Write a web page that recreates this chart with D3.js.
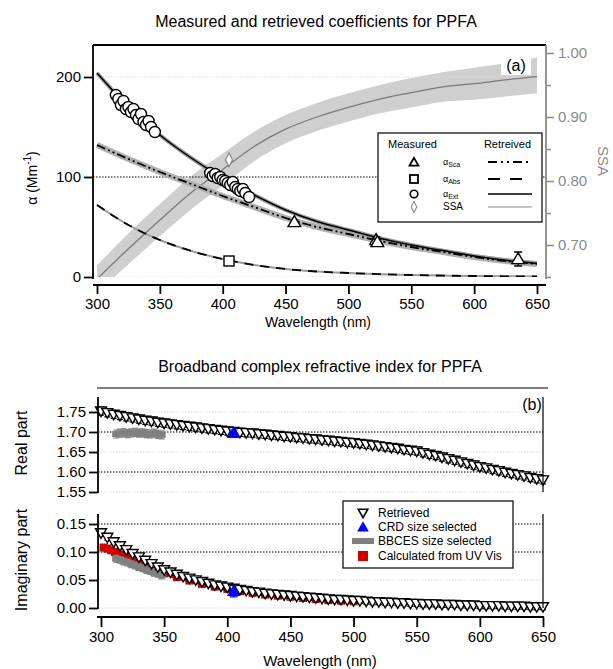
<!DOCTYPE html>
<html>
<head>
<meta charset="utf-8">
<script src="https://cdn.jsdelivr.net/npm/d3@7"></script>
<style>
body { margin: 0; background: #fff; }
svg { font-family: "Liberation Sans", Arial, sans-serif; }
</style>
</head>
<body>
<div id="chart"></div>
<script>
// ---- panel (a) : retrieved fits
var fitWave = [300, 325, 350, 375, 400, 425, 450, 475, 500, 525, 550, 575, 600, 625, 650];
var extFit  = [204, 170, 142, 119, 99, 82, 67, 55.5, 47, 38.8, 32, 26.4, 21, 16.7, 13.5];
var scaFit  = [132, 118, 105, 93, 81, 70, 59, 50, 43, 36, 30, 25, 20, 16, 13];
var absFit  = [72, 52, 37, 26, 18, 12, 8, 5.5, 4, 2.8, 2, 1.4, 1, 0.7, 0.5];
var ssaFit  = [0.647, 0.694, 0.739, 0.782, 0.818, 0.854, 0.881, 0.900, 0.915, 0.928, 0.938, 0.947, 0.952, 0.958, 0.963];
var ssaHigh = [0.668, 0.718, 0.764, 0.808, 0.843, 0.877, 0.903, 0.922, 0.937, 0.950, 0.961, 0.970, 0.977, 0.984, 0.993];
var ssaLow  = [0.626, 0.670, 0.714, 0.756, 0.793, 0.831, 0.859, 0.878, 0.893, 0.906, 0.915, 0.924, 0.927, 0.932, 0.937];

// ---- panel (a) : measured
var extWave = [315, 317, 319, 321, 323, 325, 327, 329, 331, 333, 335, 337, 339, 341, 343, 346,
               390, 392, 394, 396, 398, 400, 402, 404, 406, 408, 410, 412, 414, 416, 418, 421];
var extMeas = [182, 178, 172, 176, 168, 170, 165, 168, 162, 158, 163, 155, 152, 156, 150, 145,
               104, 101, 103, 99, 100, 97, 96, 94, 92, 95, 90, 88, 86, 88, 84, 80];
var scaWave = [457, 522, 523, 635];
var scaMeas = [55, 37, 35, 18];
var scaErr  = [2, 3, 3, 7];
var absWave = [405];
var absMeas = [16];
var ssaWave = [405];
var ssaMeas = [0.833];

// ---- panel (b) : retrieved refractive index
var retWave = [300,305,310,315,320,325,330,335,340,345,350,355,360,365,370,375,380,385,390,395,
               400,405,410,415,420,425,430,435,440,445,450,455,460,465,470,475,480,485,490,495,
               500,505,510,515,520,525,530,535,540,545,550,555,560,565,570,575,580,585,590,595,
               600,605,610,615,620,625,630,635,640,645,650];
var retReal = [1.752,1.748,1.744,1.741,1.738,1.735,1.732,1.729,1.727,1.724,1.722,1.720,1.718,1.716,1.714,1.712,1.710,1.708,1.706,1.704,
               1.702,1.701,1.699,1.698,1.697,1.695,1.694,1.692,1.691,1.689,1.688,1.686,1.685,1.683,1.682,1.680,1.679,1.677,1.676,1.674,
               1.673,1.671,1.669,1.667,1.665,1.663,1.661,1.659,1.656,1.654,1.652,1.648,1.644,1.641,1.637,1.633,1.629,1.625,1.621,1.617,
               1.613,1.610,1.606,1.603,1.599,1.596,1.593,1.590,1.586,1.583,1.580];
var retImag = [0.134,0.126,0.118,0.111,0.104,0.097,0.091,0.085,0.079,0.073,0.068,0.064,0.060,0.056,0.053,0.050,0.047,0.044,0.041,0.039,
               0.037,0.035,0.033,0.031,0.029,0.028,0.026,0.025,0.024,0.023,0.022,0.021,0.020,0.019,0.018,0.017,0.016,0.015,0.015,0.014,
               0.013,0.013,0.012,0.011,0.011,0.010,0.010,0.009,0.009,0.008,0.008,0.007,0.007,0.007,0.006,0.006,0.006,0.005,0.005,0.005,
               0.004,0.004,0.004,0.004,0.003,0.003,0.003,0.003,0.002,0.002,0.002];
var realErr = 0.010, imagErr = 0.005;

// CRD size selected
var crdWave = [405];
var crdReal = [1.697], crdRealErr = [0.008];
var crdImag = [0.030], crdImagErr = [0.010];

// BBCES size selected
var bbWave = [312, 315, 318, 321, 324, 327, 330, 333, 336, 339, 342, 345, 348];
var bbReal = [1.695, 1.697, 1.698, 1.696, 1.698, 1.699, 1.697, 1.698, 1.696, 1.695, 1.697, 1.694, 1.693];
var bbImag = [0.088, 0.086, 0.083, 0.081, 0.078, 0.076, 0.073, 0.071, 0.068, 0.066, 0.063, 0.061, 0.058];
var bbRealErr = 0.010, bbImagErr = 0.006;

// Calculated from UV Vis
var uvWave = [302,305,308,311,315,320,325,330,335,340,345,350,360,370,380,390,400,410,420,430,440,450,460,470,480,490,500];
var uvImag = [0.108,0.106,0.103,0.100,0.096,0.091,0.086,0.081,0.076,0.071,0.066,0.062,0.055,0.049,0.043,0.038,0.034,0.030,0.027,0.024,0.022,0.020,0.018,0.016,0.014,0.013,0.012];

var xTicks = [300, 350, 400, 450, 500, 550, 600, 650];

// Style setting
var width = 613, height = 669;
var band_color = "#cfcfcf";
var ssa_color  = "#8a8a8a";
var axis_w     = 1.8;

function zip(xs, ys) { return xs.map(function(x, i) { return [x, ys[i]]; }); }

var svg = d3.select("#chart").append("svg")
  .attr("width", width)
  .attr("height", height)
  .style("background", "#fff");

// =============== panel (a) ===============
var xa   = d3.scaleLinear().domain([300, 650]).range([97, 537]);
var ya   = d3.scaleLinear().domain([0, 200]).range([277, 77]);
var yssa = d3.scaleLinear().domain([0.65, 1.0]).range([277, 53]);

svg.append("text")
  .attr("x", 316).attr("y", 27)
  .attr("text-anchor", "middle")
  .attr("font-size", 16)
  .text("Measured and retrieved coefficients for PPFA");

svg.append("defs").append("clipPath").attr("id", "clipA")
  .append("rect").attr("x", 93).attr("y", 45).attr("width", 453).attr("height", 232);

var pa = svg.append("g").attr("clip-path", "url(#clipA)");

// SSA band + line
pa.append("path")
  .datum(fitWave.map(function(w, i) { return [w, ssaLow[i], ssaHigh[i]]; }))
  .attr("fill", band_color)
  .attr("d", d3.area().curve(d3.curveMonotoneX)
    .x(function(d) { return xa(d[0]); })
    .y0(function(d) { return yssa(d[1]); })
    .y1(function(d) { return yssa(d[2]); }));

// grid
[[0, "#d8d8d8"], [100, "#000"], [200, "#d8d8d8"]].forEach(function(g) {
  pa.append("line")
    .attr("x1", 93).attr("x2", 546)
    .attr("y1", ya(g[0])).attr("y2", ya(g[0]))
    .attr("stroke", g[1]).attr("stroke-width", 1)
    .attr("stroke-dasharray", "1.5,1.5");
});

var lineA = d3.line().curve(d3.curveMonotoneX)
  .x(function(d) { return xa(d[0]); })
  .y(function(d) { return ya(d[1]); });

pa.append("path").datum(zip(fitWave, ssaFit))
  .attr("fill", "none").attr("stroke", "#7a7a7a").attr("stroke-width", 1.3)
  .attr("d", d3.line().curve(d3.curveMonotoneX)
    .x(function(d) { return xa(d[0]); })
    .y(function(d) { return yssa(d[1]); }));

// uncertainty halos round the fits
pa.append("path").datum(zip(fitWave, scaFit))
  .attr("fill", "none").attr("stroke", "#b0b0b0").attr("stroke-width", 6).attr("d", lineA);
pa.append("path").datum(zip(fitWave, extFit))
  .attr("fill", "none").attr("stroke", "#9a9a9a").attr("stroke-width", 4).attr("d", lineA);
pa.append("path").datum(zip(fitWave, absFit))
  .attr("fill", "none").attr("stroke", "#9a9a9a").attr("stroke-width", 2).attr("d", lineA);

// fits
pa.append("path").datum(zip(fitWave, scaFit))
  .attr("fill", "none").attr("stroke", "#000").attr("stroke-width", 1.8)
  .attr("stroke-dasharray", "9,3,2,3,2,3").attr("d", lineA);
pa.append("path").datum(zip(fitWave, absFit))
  .attr("fill", "none").attr("stroke", "#000").attr("stroke-width", 1.8)
  .attr("stroke-dasharray", "9,7").attr("d", lineA);
pa.append("path").datum(zip(fitWave, extFit))
  .attr("fill", "none").attr("stroke", "#000").attr("stroke-width", 1.5).attr("d", lineA);

// measured extinction
pa.append("g").selectAll("circle")
  .data(zip(extWave, extMeas))
  .enter().append("circle")
  .attr("cx", function(d) { return xa(d[0]); })
  .attr("cy", function(d) { return ya(d[1]); })
  .attr("r", 5.5)
  .attr("fill", "#fff").attr("stroke", "#000").attr("stroke-width", 1.4);

// measured scattering
var sca = pa.append("g").selectAll("g")
  .data(scaWave.map(function(w, i) { return [w, scaMeas[i], scaErr[i]]; }))
  .enter().append("g");
sca.append("path")
  .attr("d", function(d) {
    var x = xa(d[0]), y1 = ya(d[1] - d[2]), y2 = ya(d[1] + d[2]);
    return "M" + (x - 4) + "," + y1 + "H" + (x + 4) + "M" + x + "," + y1 + "V" + y2 + "M" + (x - 4) + "," + y2 + "H" + (x + 4);
  })
  .attr("stroke", "#000").attr("stroke-width", 1.3);
sca.append("path")
  .attr("transform", function(d) { return "translate(" + xa(d[0]) + "," + (ya(d[1]) + 1) + ")"; })
  .attr("d", d3.symbol(d3.symbolTriangle, 70))
  .attr("fill", "#fff").attr("stroke", "#000").attr("stroke-width", 1.4);

// measured absorption
pa.append("g").selectAll("rect")
  .data(zip(absWave, absMeas))
  .enter().append("rect")
  .attr("x", function(d) { return xa(d[0]) - 5; })
  .attr("y", function(d) { return ya(d[1]) - 5; })
  .attr("width", 10).attr("height", 10)
  .attr("fill", "#fff").attr("stroke", "#000").attr("stroke-width", 1.4);

// measured SSA
pa.append("g").selectAll("path")
  .data(zip(ssaWave, ssaMeas))
  .enter().append("path")
  .attr("transform", function(d) { return "translate(" + xa(d[0]) + "," + yssa(d[1]) + ")"; })
  .attr("d", "M0,-7L3.5,0L0,7L-3.5,0Z")
  .attr("fill", "#fff").attr("stroke", ssa_color).attr("stroke-width", 1.2);

// frame and axes (a)
svg.append("line").attr("x1", 93).attr("x2", 546).attr("y1", 45).attr("y2", 45)
  .attr("stroke", "#000").attr("stroke-width", axis_w);
svg.append("line").attr("x1", 93).attr("x2", 93).attr("y1", 45).attr("y2", 279)
  .attr("stroke", "#000").attr("stroke-width", axis_w);
svg.append("line").attr("x1", 546).attr("x2", 546).attr("y1", 45).attr("y2", 279)
  .attr("stroke", ssa_color).attr("stroke-width", axis_w);

var gLeftA = svg.append("g").attr("transform", "translate(93,0)")
  .call(d3.axisLeft(ya).tickValues([0, 100, 200]).tickSize(9).tickPadding(3));
gLeftA.select(".domain").remove();
gLeftA.attr("font-size", 15).attr("font-family", null);
gLeftA.selectAll("line").attr("stroke-width", axis_w);

var gRightA = svg.append("g").attr("transform", "translate(546,0)")
  .call(d3.axisRight(yssa).tickValues([0.70, 0.80, 0.90, 1.00]).tickFormat(d3.format(".2f")).tickSize(8).tickPadding(4));
gRightA.select(".domain").remove();
gRightA.attr("font-size", 15).attr("font-family", null);
gRightA.selectAll("line").attr("stroke", ssa_color).attr("stroke-width", 1.5);
gRightA.selectAll("text").attr("fill", ssa_color);
svg.append("g").attr("transform", "translate(546,0)")
  .call(d3.axisRight(yssa).tickValues([0.65, 0.75, 0.85, 0.95]).tickFormat("").tickSize(5))
  .call(function(g) { g.select(".domain").remove(); })
  .selectAll("line").attr("stroke", ssa_color).attr("stroke-width", 1.5);

var gBottomA = svg.append("g").attr("transform", "translate(0,285)")
  .call(d3.axisBottom(xa).tickValues(xTicks).tickSize(9).tickPadding(4));
gBottomA.select(".domain").remove();
gBottomA.attr("font-size", 15).attr("font-family", null);
gBottomA.selectAll("line").attr("stroke-width", axis_w);
svg.append("line").attr("x1", 93).attr("x2", 546).attr("y1", 285).attr("y2", 285)
  .attr("stroke", "#000").attr("stroke-width", axis_w);

svg.append("text").attr("x", 318).attr("y", 327)
  .attr("text-anchor", "middle").attr("font-size", 14)
  .text("Wavelength (nm)");

var alab = svg.append("text")
  .attr("transform", "translate(37,178) rotate(-90)")
  .attr("text-anchor", "middle").attr("font-size", 14);
alab.append("tspan").text("α (Mm");
alab.append("tspan").attr("font-size", 10).attr("dy", -6).text("-1");
alab.append("tspan").attr("dy", 6).text(")");

svg.append("text")
  .attr("transform", "translate(598,161) rotate(90)")
  .attr("text-anchor", "middle").attr("font-size", 15)
  .attr("fill", ssa_color)
  .text("SSA");

svg.append("rect").attr("x", 501).attr("y", 55).attr("width", 30).attr("height", 20).attr("fill", "#fff");
svg.append("text").attr("x", 516).attr("y", 71)
  .attr("text-anchor", "middle").attr("font-size", 16).text("(a)");

// legend (a)
var la = svg.append("g");
la.append("rect").attr("x", 378).attr("y", 133).attr("width", 164).attr("height", 89)
  .attr("fill", "#fff").attr("stroke", "#000").attr("stroke-width", 1.2);
la.append("text").attr("x", 388).attr("y", 148).attr("font-size", 11).text("Measured");
la.append("text").attr("x", 531).attr("y", 148).attr("font-size", 11).attr("text-anchor", "end").text("Retreived");
var legRows = [
  { y: 162, sub: "Sca", dash: "9,4,2,4,2,4", color: "#000", w: 2 },
  { y: 179, sub: "Abs", dash: "12,10", color: "#000", w: 2 },
  { y: 194, sub: "Ext", dash: null, color: "#000", w: 1.3 },
  { y: 207, sub: null, dash: null, color: ssa_color, w: 1.2 }
];
legRows.forEach(function(r) {
  la.append("line").attr("x1", 488).attr("x2", 532).attr("y1", r.y).attr("y2", r.y)
    .attr("stroke", r.color).attr("stroke-width", r.w)
    .attr("stroke-dasharray", r.dash);
  var t = la.append("text").attr("x", 443).attr("y", r.y + 3).attr("font-size", 10);
  if (r.sub) {
    t.append("tspan").attr("font-size", 9).text("α");
    t.append("tspan").attr("font-size", 7).attr("dy", 2).text(r.sub);
  } else {
    t.text("SSA");
  }
});
la.append("path").attr("transform", "translate(414,163)")
  .attr("d", d3.symbol(d3.symbolTriangle, 34))
  .attr("fill", "#fff").attr("stroke", "#000").attr("stroke-width", 1.8);
la.append("rect").attr("x", 410).attr("y", 175).attr("width", 8).attr("height", 8)
  .attr("fill", "#fff").attr("stroke", "#000").attr("stroke-width", 1.8);
la.append("circle").attr("cx", 414).attr("cy", 194).attr("r", 3.8)
  .attr("fill", "#fff").attr("stroke", "#000").attr("stroke-width", 1.6);
la.append("path").attr("transform", "translate(414,207)")
  .attr("d", "M0,-5.5L2.8,0L0,5.5L-2.8,0Z")
  .attr("fill", "#fff").attr("stroke", ssa_color).attr("stroke-width", 1.1);

// =============== panel (b) ===============
var xb = d3.scaleLinear().domain([300, 650]).range([101, 543]);
var yr = d3.scaleLinear().domain([1.55, 1.75]).range([492, 412]);
var yi = d3.scaleLinear().domain([0, 0.15]).range([608, 524]);

svg.append("text")
  .attr("x", 320).attr("y", 372)
  .attr("text-anchor", "middle")
  .attr("font-size", 16)
  .text("Broadband complex refractive index for PPFA");
svg.append("line").attr("x1", 97).attr("x2", 548).attr("y1", 388).attr("y2", 388)
  .attr("stroke", "#000").attr("stroke-width", 1.2);

// grids
[[1.55, "#dadada"], [1.60, "#000"], [1.65, "#dadada"], [1.70, "#000"], [1.75, "#dadada"]].forEach(function(g) {
  svg.append("line").attr("x1", 98).attr("x2", 543).attr("y1", yr(g[0])).attr("y2", yr(g[0]))
    .attr("stroke", g[1]).attr("stroke-width", 1).attr("stroke-dasharray", "1.5,1.5");
});
[[0, "#dadada"], [0.05, "#dadada"], [0.10, "#000"], [0.15, "#000"]].forEach(function(g) {
  svg.append("line").attr("x1", 98).attr("x2", 543).attr("y1", yi(g[0])).attr("y2", yi(g[0]))
    .attr("stroke", g[1]).attr("stroke-width", 1).attr("stroke-dasharray", "1.5,1.5");
});

function errBar(g, x, y1, y2, color, cap) {
  g.append("path")
    .attr("d", "M" + (x - cap) + "," + y1 + "H" + (x + cap) + "M" + x + "," + y1 + "V" + y2 + "M" + (x - cap) + "," + y2 + "H" + (x + cap))
    .attr("stroke", color).attr("stroke-width", 1.2).attr("fill", "none");
}

function drawPanelB(y, vals, err, bb, bbErr, crd, crdErr, withUv) {
  var g = svg.append("g");
  // UV Vis (under everything)
  if (withUv) {
    var uv = zip(uvWave, uvImag);
    g.append("path").datum(uv)
      .attr("fill", "none").attr("stroke", "#d00000").attr("stroke-width", 4)
      .attr("d", d3.line().x(function(d) { return xb(d[0]); }).y(function(d) { return y(d[1]); }));
    g.selectAll(".uv").data(uv).enter().append("rect")
      .attr("x", function(d) { return xb(d[0]) - 4; })
      .attr("y", function(d) { return y(d[1]) - 4; })
      .attr("width", 8).attr("height", 8)
      .attr("fill", "#d00000");
  }
  // BBCES
  bbWave.forEach(function(w, i) {
    errBar(g, xb(w), y(bb[i] - bbErr), y(bb[i] + bbErr), "#808080", 3);
  });
  g.selectAll(".bb").data(zip(bbWave, bb)).enter().append("rect")
    .attr("x", function(d) { return xb(d[0]) - 4; })
    .attr("y", function(d) { return y(d[1]) - 3; })
    .attr("width", 8).attr("height", 6)
    .attr("fill", "#808080");
  // retrieved
  var ret = zip(retWave, vals);
  ret.forEach(function(d) {
    errBar(g, xb(d[0]), y(d[1] - err), y(d[1] + err), "#000", 3);
  });
  g.selectAll(".ret").data(ret).enter().append("path")
    .attr("transform", function(d) { return "translate(" + xb(d[0]) + "," + (y(d[1]) - 1) + ") rotate(180)"; })
    .attr("d", d3.symbol(d3.symbolTriangle, 52))
    .attr("fill", "#fff").attr("stroke", "#000").attr("stroke-width", 1.4);
  // CRD
  crdWave.forEach(function(w, i) {
    errBar(g, xb(w), y(crd[i] - crdErr[i]), y(crd[i] + crdErr[i]), "#0000ff", 4);
    g.append("path")
      .attr("transform", "translate(" + xb(w) + "," + (y(crd[i]) + 1) + ")")
      .attr("d", d3.symbol(d3.symbolTriangle, 75))
      .attr("fill", "#0000ff");
  });
}

drawPanelB(yr, retReal, realErr, bbReal, bbRealErr, crdReal, crdRealErr, false);
drawPanelB(yi, retImag, imagErr, bbImag, bbImagErr, crdImag, crdImagErr, true);

// axes (b)
var gReal = svg.append("g").attr("transform", "translate(98,0)")
  .call(d3.axisLeft(yr).tickValues([1.55, 1.60, 1.65, 1.70, 1.75]).tickFormat(d3.format(".2f")).tickSize(9).tickPadding(3));
gReal.select(".domain").remove();
gReal.attr("font-size", 15).attr("font-family", null);
gReal.selectAll("line").attr("stroke-width", axis_w);
svg.append("line").attr("x1", 98).attr("x2", 98).attr("y1", 397).attr("y2", 493)
  .attr("stroke", "#000").attr("stroke-width", axis_w);
svg.append("line").attr("x1", 543).attr("x2", 543).attr("y1", 397).attr("y2", 492)
  .attr("stroke", "#000").attr("stroke-width", 1.2);

var gImag = svg.append("g").attr("transform", "translate(98,0)")
  .call(d3.axisLeft(yi).tickValues([0, 0.05, 0.10, 0.15]).tickFormat(d3.format(".2f")).tickSize(9).tickPadding(3));
gImag.select(".domain").remove();
gImag.attr("font-size", 15).attr("font-family", null);
gImag.selectAll("line").attr("stroke-width", axis_w);
svg.append("line").attr("x1", 98).attr("x2", 98).attr("y1", 514).attr("y2", 609)
  .attr("stroke", "#000").attr("stroke-width", axis_w);
svg.append("line").attr("x1", 543).attr("x2", 543).attr("y1", 514).attr("y2", 608)
  .attr("stroke", "#000").attr("stroke-width", 1.2);

var gBottomB = svg.append("g").attr("transform", "translate(0,617)")
  .call(d3.axisBottom(xb).tickValues(xTicks).tickSize(10).tickPadding(4));
gBottomB.select(".domain").remove();
gBottomB.attr("font-size", 15).attr("font-family", null);
gBottomB.selectAll("line").attr("stroke-width", axis_w);
svg.append("line").attr("x1", 97).attr("x2", 544).attr("y1", 617).attr("y2", 617)
  .attr("stroke", "#000").attr("stroke-width", axis_w);

svg.append("text").attr("x", 320).attr("y", 666)
  .attr("text-anchor", "middle").attr("font-size", 15)
  .text("Wavelength (nm)");

svg.append("text").attr("transform", "translate(27,443) rotate(-90)")
  .attr("text-anchor", "middle").attr("font-size", 16).text("Real part");
svg.append("text").attr("transform", "translate(27,560) rotate(-90)")
  .attr("text-anchor", "middle").attr("font-size", 16).text("Imaginary part");

svg.append("text").attr("x", 532).attr("y", 410)
  .attr("text-anchor", "middle").attr("font-size", 16).text("(b)");

// legend (b)
var lb = svg.append("g");
lb.append("rect").attr("x", 343).attr("y", 501).attr("width", 170).attr("height", 67)
  .attr("fill", "#fff").attr("stroke", "#000").attr("stroke-width", 1.2);
var lbText = ["Retrieved", "CRD size selected", "BBCES size selected", "Calculated from UV Vis"];
var lbY = [513, 527, 541, 556];
lbText.forEach(function(t, i) {
  lb.append("text").attr("x", 378).attr("y", lbY[i] + 4).attr("font-size", 12).text(t);
});
lb.append("path").attr("transform", "translate(363,512) rotate(180)")
  .attr("d", d3.symbol(d3.symbolTriangle, 40))
  .attr("fill", "#fff").attr("stroke", "#000").attr("stroke-width", 1.6);
lb.append("path").attr("transform", "translate(363,528)")
  .attr("d", d3.symbol(d3.symbolTriangle, 60))
  .attr("fill", "#0000ff");
lb.append("rect").attr("x", 352).attr("y", 538).attr("width", 22).attr("height", 6).attr("fill", "#808080");
lb.append("rect").attr("x", 358).attr("y", 551).attr("width", 10).attr("height", 10).attr("fill", "#d00000");
</script>
</body>
</html>
